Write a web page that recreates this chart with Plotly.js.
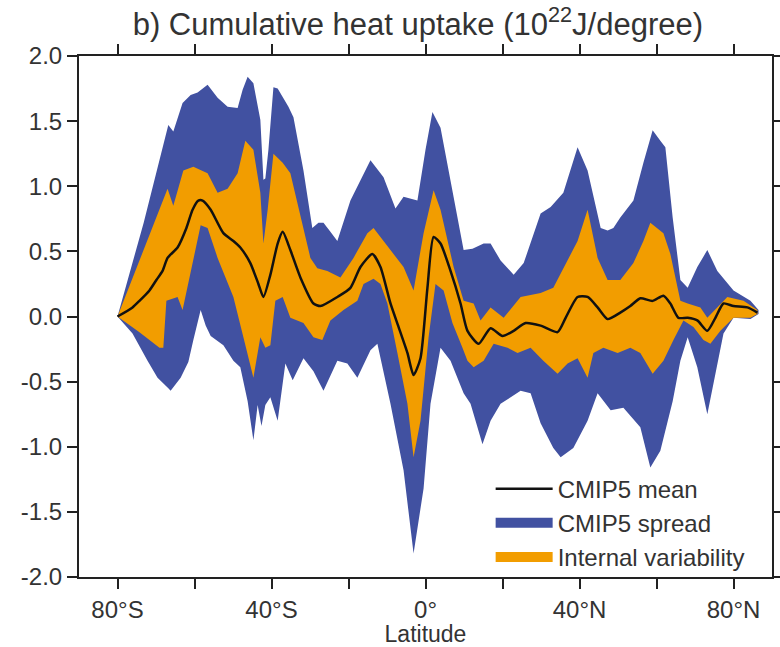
<!DOCTYPE html>
<html>
<head>
<meta charset="utf-8">
<script src="https://cdn.plot.ly/plotly-3.0.1.min.js"></script>
<style>
  html, body { margin: 0; padding: 0; background: #fff; }
  #chart { width: 780px; height: 647px; }
</style>
</head>
<body>
<div id="chart"></div>
<script>
// CMIP5 spread: upper and lower envelope (10^22 J/degree) against latitude
const spreadHiLat = [-80, -73.2, -66.8, -65.5, -63.1, -61.0, -59.2, -56.6, -54.0, -51.4, -48.8, -47.5, -46.2, -44.7, -42.9, -42.1, -41.6, -40.8, -39.5, -38.4, -35.6, -34.3, -31.7, -29.4, -27.8, -26.5, -24.7, -22.9, -19.5, -14.3, -10.9, -7.8, -5.7, -2.1, 0.0, 1.8, 3.9, 6.5, 9.9, 12.2, 15.1, 16.9, 19.5, 22.9, 25.5, 29.9, 32.5, 35.8, 39.5, 42.1, 45.5, 47.3, 48.8, 50.6, 54.0, 56.6, 59.0, 61.0, 62.3, 64.2, 66.2, 68.1, 70.6, 73.2, 75.8, 80.0, 84.4, 86.5];
const spreadHi    = [0.00, 0.72, 1.47, 1.42, 1.64, 1.70, 1.72, 1.78, 1.68, 1.61, 1.60, 1.74, 1.84, 1.79, 1.51, 1.05, 1.06, 1.28, 1.76, 1.75, 1.61, 1.53, 1.12, 0.68, 0.72, 0.72, 0.65, 0.58, 0.89, 1.20, 1.07, 0.83, 0.92, 0.89, 1.28, 1.57, 1.45, 1.05, 0.51, 0.52, 0.56, 0.56, 0.43, 0.32, 0.41, 0.79, 0.84, 0.95, 1.30, 1.12, 0.68, 0.66, 0.68, 0.76, 0.89, 1.18, 1.43, 1.35, 1.30, 0.76, 0.28, 0.22, 0.38, 0.51, 0.35, 0.20, 0.12, 0.05];

const spreadLoLat = [-80, -76.1, -72.2, -69.6, -66.8, -66.2, -64.9, -63.6, -61.6, -60.3, -58.4, -57.1, -55.8, -52.5, -49.9, -48.1, -46.2, -44.7, -43.6, -42.6, -41.6, -40.3, -38.4, -36.4, -34.5, -31.7, -29.1, -26.5, -22.9, -20.3, -17.7, -14.3, -12.5, -9.1, -5.7, -3.1, -0.5, 1.3, 3.9, 6.5, 9.9, 11.7, 14.8, 16.9, 19.5, 24.7, 27.3, 29.9, 33.2, 35.1, 38.4, 42.1, 44.7, 48.1, 51.4, 55.8, 58.4, 61.0, 64.2, 66.2, 68.1, 70.6, 73.2, 74.8, 77.4, 80.0, 84.4, 86.5];
const spreadLo    = [0.00, -0.13, -0.34, -0.47, -0.55, -0.57, -0.52, -0.47, -0.35, -0.18, 0.05, -0.07, -0.15, -0.22, -0.34, -0.39, -0.65, -0.95, -0.68, -0.84, -0.68, -0.62, -0.80, -0.36, -0.49, -0.32, -0.42, -0.57, -0.34, -0.36, -0.47, -0.26, -0.21, -0.67, -1.18, -1.82, -1.32, -0.67, -0.24, -0.34, -0.59, -0.67, -0.98, -0.80, -0.67, -0.57, -0.59, -0.82, -1.01, -1.08, -1.01, -0.80, -0.59, -0.72, -0.70, -0.85, -1.16, -1.03, -0.65, -0.34, -0.16, -0.39, -0.75, -0.52, -0.13, -0.01, -0.02, 0.02];

// Internal variability: upper and lower envelope
const internalHiLat = [-80, -73.2, -67.0, -65.5, -62.9, -60.3, -56.6, -54.0, -51.4, -48.8, -46.8, -44.7, -42.9, -42.1, -41.0, -39.5, -37.1, -35.1, -33.2, -29.9, -28.1, -25.5, -22.1, -18.7, -15.1, -13.5, -9.1, -5.7, -3.1, -0.5, 2.1, 3.9, 7.3, 9.9, 12.5, 14.3, 16.9, 20.3, 24.7, 29.9, 33.2, 36.9, 39.5, 42.1, 44.7, 47.3, 50.6, 54.0, 56.6, 58.4, 61.8, 63.6, 66.2, 68.1, 71.4, 73.2, 75.8, 78.4, 82.6, 86.2];
const internalHi    = [0.00, 0.51, 0.98, 0.85, 1.12, 1.15, 1.10, 0.95, 0.98, 1.10, 1.35, 1.28, 0.95, 0.56, 0.82, 1.25, 1.18, 1.10, 0.87, 0.45, 0.37, 0.35, 0.30, 0.45, 0.64, 0.68, 0.51, 0.38, 0.20, 0.64, 0.97, 0.82, 0.38, 0.12, 0.10, -0.03, 0.07, -0.01, 0.15, 0.18, 0.22, 0.43, 0.58, 0.82, 0.45, 0.28, 0.28, 0.41, 0.58, 0.72, 0.64, 0.48, 0.12, 0.10, 0.07, -0.01, 0.07, 0.15, 0.12, 0.05];

const internalLoLat = [-80, -74.3, -69.1, -68.1, -67.3, -64.4, -63.1, -61.0, -58.4, -56.6, -54.0, -49.9, -47.3, -44.7, -42.9, -41.6, -40.3, -39.0, -37.1, -35.1, -31.7, -29.1, -26.8, -24.7, -21.3, -17.7, -16.1, -13.5, -11.7, -9.9, -7.3, -4.7, -3.1, -1.3, 0.8, 2.6, 4.7, 7.0, 9.6, 10.9, 12.5, 15.1, 17.7, 21.3, 23.9, 27.3, 30.6, 34.3, 36.9, 39.5, 42.1, 43.6, 46.2, 49.9, 53.2, 55.8, 59.0, 61.8, 64.4, 67.0, 69.6, 72.2, 74.0, 76.6, 80.0, 84.4, 86.2];
const internalLo    = [0.00, -0.12, -0.24, -0.24, 0.12, 0.15, 0.05, 0.35, 0.70, 0.68, 0.45, 0.15, -0.16, -0.47, -0.16, -0.24, -0.22, 0.12, 0.15, -0.01, -0.05, -0.16, -0.18, -0.03, 0.05, 0.12, 0.25, 0.29, 0.25, 0.10, -0.28, -0.67, -1.08, -0.80, -0.16, 0.25, 0.20, -0.05, -0.24, -0.34, -0.39, -0.34, -0.21, -0.24, -0.28, -0.24, -0.34, -0.44, -0.36, -0.32, -0.47, -0.28, -0.24, -0.28, -0.24, -0.28, -0.44, -0.34, -0.18, -0.03, -0.08, -0.18, -0.21, -0.11, -0.01, -0.01, 0.02];

// CMIP5 multi-model mean
const meanLat = [-80, -76.1, -74.3, -71.7, -69.9, -68.3, -67.0, -64.4, -62.1, -60.5, -59.0, -57.9, -55.8, -52.5, -49.9, -48.1, -45.5, -43.4, -42.1, -40.3, -38.4, -37.1, -35.1, -32.5, -29.1, -27.3, -22.9, -19.5, -16.9, -13.8, -11.7, -9.1, -7.0, -4.7, -3.1, -1.3, 0.5, 2.1, 3.9, 6.5, 9.1, 10.9, 13.8, 16.9, 20.0, 22.9, 26.0, 29.9, 34.3, 36.4, 39.5, 42.1, 44.7, 47.3, 50.6, 53.2, 55.8, 59.0, 61.8, 63.6, 65.7, 68.1, 70.6, 73.2, 75.3, 77.4, 80.0, 83.6, 86.2];
const meanVal = [0.00, 0.07, 0.12, 0.20, 0.28, 0.35, 0.45, 0.53, 0.68, 0.82, 0.89, 0.89, 0.82, 0.64, 0.58, 0.53, 0.41, 0.25, 0.15, 0.32, 0.56, 0.65, 0.51, 0.30, 0.10, 0.08, 0.15, 0.22, 0.38, 0.48, 0.38, 0.10, -0.08, -0.28, -0.45, -0.32, 0.22, 0.61, 0.56, 0.35, 0.10, -0.11, -0.21, -0.09, -0.15, -0.11, -0.05, -0.07, -0.12, -0.01, 0.15, 0.15, 0.07, -0.02, 0.03, 0.08, 0.14, 0.12, 0.16, 0.10, -0.01, -0.01, -0.03, -0.11, -0.01, 0.10, 0.08, 0.07, 0.03];

// Axis ticks
const xTickVals = [-80, -40, 0, 40, 80];
const xTickText = ['80°S', '40°S', '0°', '40°N', '80°N'];
const yTickVals = [-2, -1.5, -1, -0.5, 0, 0.5, 1, 1.5, 2];
const yTickText = ['-2.0', '-1.5', '-1.0', '-0.5', '0.0', '0.5', '1.0', '1.5', '2.0'];

const BLUE = '#4151a1';
const ORANGE = '#f29d00';
const FONT = 'Liberation Sans, Arial, Helvetica, sans-serif';
const TEXT = '#333333';
const AXIS = '#222222';

// closed polygon from an upper and a lower envelope
function band(hiLat, hi, loLat, lo) {
  return {
    x: hiLat.concat(loLat.slice().reverse()),
    y: hi.concat(lo.slice().reverse())
  };
}

const spreadBand = band(spreadHiLat, spreadHi, spreadLoLat, spreadLo);
const internalBand = band(internalHiLat, internalHi, internalLoLat, internalLo);

const traces = [
  {
    x: spreadBand.x, y: spreadBand.y, type: 'scatter', mode: 'lines',
    fill: 'toself', fillcolor: BLUE, line: { width: 0, color: BLUE },
    showlegend: false, hoverinfo: 'skip'
  },
  {
    x: internalBand.x, y: internalBand.y, type: 'scatter', mode: 'lines',
    fill: 'toself', fillcolor: ORANGE, line: { width: 0, color: ORANGE },
    showlegend: false, hoverinfo: 'skip'
  },
  {
    x: meanLat, y: meanVal, type: 'scatter', mode: 'lines',
    line: { color: '#111111', width: 2.5, shape: 'spline', smoothing: 0.6 },
    name: 'CMIP5 mean'
  },
  // legend swatches for the two bands
  {
    x: [null], y: [null], type: 'scatter', mode: 'lines',
    line: { color: BLUE, width: 15 }, name: 'CMIP5 spread'
  },
  {
    x: [null], y: [null], type: 'scatter', mode: 'lines',
    line: { color: ORANGE, width: 15 }, name: 'Internal variability'
  }
];

const axisCommon = {
  showgrid: false, zeroline: false,
  showline: true, linecolor: AXIS, linewidth: 2,
  mirror: 'ticks', ticks: 'outside', ticklen: 10, tickwidth: 2, tickcolor: AXIS,
  tickfont: { family: FONT, size: 24, color: TEXT }
};

const layout = {
  width: 780, height: 647,
  margin: { l: 79, r: 8, t: 56, b: 70 },
  paper_bgcolor: '#ffffff', plot_bgcolor: '#ffffff',
  title: {
    text: 'b) Cumulative heat uptake (10<sup>22</sup>J/degree)',
    font: { family: FONT, size: 31, color: TEXT },
    xref: 'paper', x: 0.489, xanchor: 'center',
    yref: 'container', y: 0.963, yanchor: 'middle'
  },
  xaxis: Object.assign({}, axisCommon, {
    range: [-90, 90], tickmode: 'array', tickvals: xTickVals, ticktext: xTickText,
    minor: { dtick: 20, tick0: 0, ticks: 'outside', ticklen: 10, tickwidth: 2, tickcolor: AXIS, showgrid: false },
    title: { text: 'Latitude', font: { family: FONT, size: 23, color: TEXT }, standoff: 5 }
  }),
  yaxis: Object.assign({}, axisCommon, {
    range: [-2, 2], tickmode: 'array', tickvals: yTickVals, ticktext: yTickText
  }),
  legend: {
    x: 0.594, y: 0.212, xanchor: 'left', yanchor: 'top',
    bgcolor: 'rgba(0,0,0,0)', borderwidth: 0,
    font: { family: FONT, size: 24, color: TEXT },
    itemwidth: 57, tracegroupgap: 0
  },
  showlegend: true
};

Plotly.newPlot('chart', traces, layout, { displayModeBar: false, staticPlot: true });
</script>
</body>
</html>
